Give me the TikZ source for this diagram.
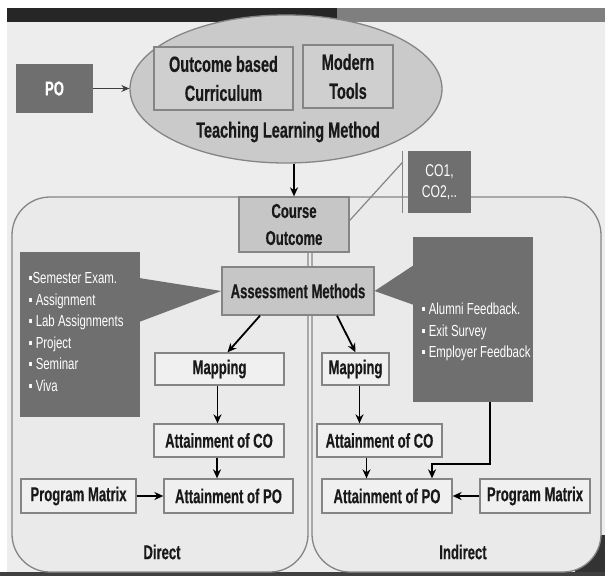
\documentclass[tikz,border=0pt]{standalone}
\usepackage{fontspec}
\setmainfont{Liberation Sans}
\newfontfamily\nar{Liberation Sans}[FakeStretch=0.655,BoldFeatures={FakeBold=0.4}]
\newfontfamily\nart{Liberation Sans}[FakeStretch=0.66,BoldFeatures={FakeBold=0.4}]
\newfontfamily\narl{Liberation Sans}[FakeStretch=0.715]
\usetikzlibrary{shapes.geometric,arrows.meta,calc}
\definecolor{bg}{HTML}{EDEDED}
\definecolor{paneln}{HTML}{EAEAEA}
\definecolor{bord}{HTML}{858585}
\definecolor{darkbox}{HTML}{6F6F6F}
\definecolor{midbox}{HTML}{C6C6C6}
\definecolor{ellfill}{HTML}{CACACA}
\definecolor{inbox}{HTML}{CFCFCF}
\definecolor{litebox}{HTML}{F0F0F0}
\definecolor{topdark}{HTML}{262626}
\definecolor{topgray}{HTML}{7F7F7F}
\tikzset{
  bfont/.style={font=\nar\bfseries\fontsize{20}{27}\selectfont},
  tfont/.style={font=\nart\bfseries\fontsize{22}{29}\selectfont},
  anybox/.style={draw=bord, line width=1.3pt, inner sep=0pt, align=center, text=black!90},
  midnode/.style={anybox, fill=midbox, bfont},
  litenode/.style={anybox, fill=litebox, bfont},
  innode/.style={anybox, fill=inbox, tfont},
  darknode/.style={fill=darkbox, inner sep=0pt, text=white},
  panelbox/.style={draw=bord, line width=1.3pt, fill=paneln, rounded corners=38pt},
  arr/.style={-{Stealth[length=9pt,width=8pt]}, line width=1.8pt, black},
  thinarr/.style={-{Stealth[length=8pt,width=7pt]}, line width=1.2pt, black!75},
  calline/.style={draw=bord, line width=1.2pt},
  lbl/.style={bfont, text=black!90}
}
\begin{document}
\begin{tikzpicture}[x=1pt,y=-1pt]
% background
\fill[white] (0,0) rectangle (605,576);
\fill[bg] (7,22) rectangle (605,572);
\fill[topdark] (7,8) rectangle (337,22);
\fill[topgray] (337,8) rectangle (605,22);
\fill[black!80] (575,535) rectangle (605,576);
\fill[black!75] (0,572) rectangle (605,576);

% panels
\draw[panelbox] (12,197) rectangle (308,572);
\draw[panelbox] (312,197) rectangle (601,572);

% top part
\node[darknode, minimum width=77pt, minimum height=49pt, font=\nar\bfseries\fontsize{20}{22}\selectfont] (po) at (54.5,88.5) {PO};
\node[ellipse, draw=bord, fill=ellfill, line width=1.3pt, minimum width=312pt, minimum height=148pt, inner sep=0pt] (tlm) at (286,89) {};
\node[innode, minimum width=139pt, minimum height=63pt] (obc) at (223.5,78.5) {Outcome based\\Curriculum};
\node[innode, minimum width=90pt, minimum height=63pt] (mt) at (348,76.5) {Modern\\Tools};
\node[tfont, text=black!90] (tlmt) at (288,132) {Teaching Learning Method};
\draw[thinarr] (po.east) -- (tlm.west |- po.east);

% course outcome
\node[midnode, minimum width=110pt, minimum height=55pt] (co) at (294,224.5) {Course\\Outcome};
\draw[arr] (co.north |- tlm.south) -- (co.north);
\node[darknode, minimum width=63pt, minimum height=62pt, align=center, font=\narl\fontsize{17}{21}\selectfont] (cob) at (439.5,182) {CO1,\\CO2,..};
\draw[calline] ([yshift=4pt]co.east) -- ([xshift=-5pt,yshift=20pt]cob.west);
\draw[calline] ([xshift=-5pt]cob.north west) -- ([xshift=-5pt]cob.south west);

% assessment methods
\node[midnode, minimum width=152pt, minimum height=48pt] (am) at (298,291) {Assessment Methods};

% callouts
\fill[darkbox] (139,278) -- (am.west) -- (139,322) -- cycle;
\node[darknode, minimum width=120pt, minimum height=165pt] (lc) at (80,334.5) {};
\node[anchor=west, text=white, align=left, font=\narl\fontsize{16}{21.6}\selectfont] (lct) at (25,332) {▪Semester Exam.\\▪ Assignment\\▪ Lab Assignments\\▪ Project\\▪ Seminar\\▪ Viva};
\fill[darkbox] (414,265) -- (am.east) -- (414,305) -- cycle;
\node[darknode, minimum width=120pt, minimum height=165pt] (rc) at (473,319.5) {};
\node[anchor=west, text=white, align=left, font=\narl\fontsize{16}{21.6}\selectfont] (rct) at (418,332) {▪ Alumni Feedback.\\▪ Exit Survey\\▪ Employer Feedback};

% direct
\node[litenode, minimum width=129pt, minimum height=32pt] (mapl) at (219.5,369) {Mapping};
\node[litenode, minimum width=130pt, minimum height=33pt] (acol) at (219,440.5) {Attainment of CO};
\node[litenode, minimum width=129pt, minimum height=34pt] (apol) at (228.5,496) {Attainment of PO};
\node[litenode, minimum width=115pt, minimum height=34pt] (pml) at (78.5,496) {Program Matrix};
\node[lbl] (dir) at (162,552) {Direct};

% indirect
\node[litenode, minimum width=67pt, minimum height=32pt] (mapr) at (355.5,369) {Mapping};
\node[litenode, minimum width=125pt, minimum height=33pt] (acor) at (379.5,440.5) {Attainment of CO};
\node[litenode, minimum width=130pt, minimum height=34pt] (apor) at (387,496) {Attainment of PO};
\node[litenode, minimum width=110pt, minimum height=34pt] (pmr) at (535,496) {Program Matrix};
\node[lbl] (ind) at (463,552) {Indirect};

% arrows
\draw[arr] ([xshift=-38pt]am.south) -- ([xshift=8pt]mapl.north);
\draw[arr] ([xshift=39pt]am.south) -- (mapr.north);
\draw[arr] ([xshift=-2pt]mapl.south) -- ([xshift=-2pt]mapl.south |- acol.north);
\draw[arr] ([xshift=-2pt]acol.south) -- ([xshift=-2pt]acol.south |- apol.north);
\draw[arr] (pml.east) -- (apol.west);
\draw[arr] ([xshift=4pt]mapr.south) -- ([xshift=4pt]mapr.south |- acor.north);
\draw[arr] ([xshift=-13pt]acor.south) -- ([xshift=-13pt]acor.south |- apor.north);
\draw[arr] (pmr.west) -- (apor.east);
\draw[arr] ([xshift=17pt]rc.south) |- ([xshift=45pt,yshift=14pt]apor.north) -- ([xshift=45pt]apor.north);
\end{tikzpicture}
\end{document}
